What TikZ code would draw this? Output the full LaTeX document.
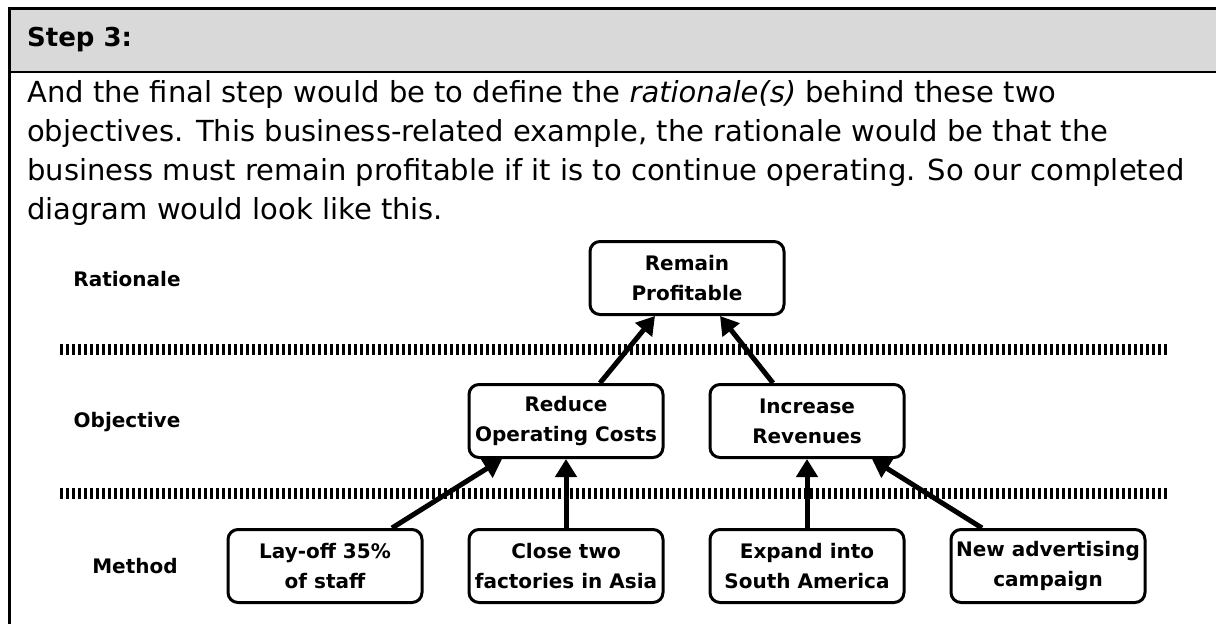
\documentclass[tikz,border=0pt]{standalone}
\usepackage{fontspec}
\setmainfont{DejaVu Sans}
\usetikzlibrary{arrows.meta}
\definecolor{hdrgray}{HTML}{D9D9D9}

\begin{document}
\begin{tikzpicture}[x=1pt, y=-1pt, node distance={241pt},
    main/.style = {draw, fill=white, line width=3pt, rounded corners=10pt, minimum width=194pt, minimum height=73pt, inner sep=2pt, align=center, font=\bfseries\fontsize{20}{30}\selectfont},
    level/.style = {font=\bfseries\fontsize{20}{24}\selectfont},
    sep/.style = {line width=11pt, dash pattern=on 3pt off 3pt},
    link/.style = {line width=5pt, -{Triangle[length=18pt,width=21pt]}}]
    \useasboundingbox (0,0) rectangle (1216,624);

    % header and frame
    \fill[hdrgray] (9,8) rectangle (1216,72);
    \draw[line width=3pt] (9,624) -- (9,8) -- (1216,8);
    \draw[line width=2pt] (9,72) -- (1216,72);
    \node[anchor=west, inner sep=0pt, font=\bfseries\fontsize{26}{30}\selectfont] (title) at (27,40) {Step 3:};
    \node[anchor=north west, inner sep=0pt, align=left, font=\fontsize{29}{39}\selectfont] (intro) at (27,80)
        {And the final step would be to define the \textit{rationale(s)} behind these two\\
         objectives. This business-related example, the rationale would be that the\\
         business must remain profitable if it is to continue operating. So our completed\\
         diagram would look like this.};

    % levels
    \node[level] (rat) at (127,279) {Rationale};
    \node[level] (obj) at (127,422) {Objective};
    \node[level] (meth) at (135,566) {Method};
    \draw[sep] (60,349) -- (1168,349);
    \draw[sep] (60,493) -- (1168,493);

    % boxes
    \node[main] (layoff) at (325,566) {Lay-off 35\%\\of staff};
    \node[main] (close) [right of=layoff] {Close two\\factories in Asia};
    \node[main] (expand) [right of=close] {Expand into\\South America};
    \node[main] (advert) [right of=expand] {New advertising\\campaign};
    \node[main] (reduce) [above of=close, node distance=145pt] {Reduce\\Operating Costs};
    \node[main] (increase) [above of=expand, node distance=145pt] {Increase\\Revenues};
    \node[main] (remain) at (687,278) {Remain\\Profitable};

    \draw[link] ([xshift=67pt]layoff.north) -- ([xshift=-64pt]reduce.south);
    \draw[link] (close) -- (reduce);
    \draw[link] (expand) -- (increase);
    \draw[link] ([xshift=-66pt]advert.north) -- ([xshift=65pt]increase.south);
    \draw[link] ([xshift=34pt]reduce.north) -- ([xshift=-32pt]remain.south);
    \draw[link] ([xshift=-34pt]increase.north) -- ([xshift=33pt]remain.south);
\end{tikzpicture}
\end{document}
